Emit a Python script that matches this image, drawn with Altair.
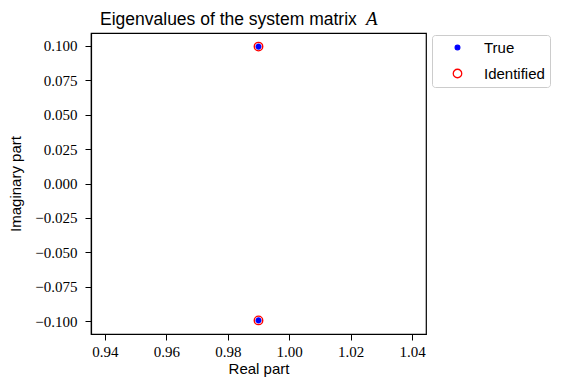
import altair as alt
import pandas as pd

# Data
series_names = ["True", "Identified"]
true_re = [0.99, 0.99]
true_im = [0.0995, -0.0995]
ident_re = [0.99, 0.99]
ident_im = [0.0995, -0.0995]

x_ticks = [0.94, 0.96, 0.98, 1.00, 1.02, 1.04]
y_ticks = [-0.100, -0.075, -0.050, -0.025, 0.000, 0.025, 0.050, 0.075, 0.100]

title_main = "Eigenvalues of the system matrix"
title_sym = "A"

df = pd.DataFrame({
    "re": true_re + ident_re,
    "im": true_im + ident_im,
    "series": ["True"] * len(true_re) + ["Identified"] * len(ident_re),
})

SERIF = "Liberation Serif"
SANS = "Liberation Sans"

legend = alt.Legend(
    title=None, orient="none", legendX=341, legendY=2,
    strokeColor="#cccccc", fillColor="white", cornerRadius=3, padding=5,
    labelFont=SANS, labelFontSize=15, labelColor="black", labelOffset=19,
    symbolOffset=13, rowPadding=10, symbolStrokeWidth=1.3,
)

points = alt.Chart(df).mark_point(strokeWidth=1.4, opacity=1).encode(
    x=alt.X("re:Q", scale=alt.Scale(domain=[0.9355, 1.0445], nice=False, zero=False),
            axis=alt.Axis(values=x_ticks, format=".2f", title="Real part")),
    y=alt.Y("im:Q", scale=alt.Scale(domain=[-0.1094, 0.1094], nice=False, zero=False),
            axis=alt.Axis(values=y_ticks, format=".3f", title="Imaginary part")),
    fill=alt.Fill("series:N", scale=alt.Scale(domain=series_names, range=["#0000ff", "transparent"]), legend=legend),
    stroke=alt.Stroke("series:N", scale=alt.Scale(domain=series_names, range=["#0000ff", "#ff0000"]), legend=legend),
    size=alt.Size("series:N", scale=alt.Scale(domain=series_names, range=[22, 72]), legend=legend),
    order=alt.Order("order:Q"),
).transform_calculate(order="datum.series == 'True' ? 0 : 1")

title_a = alt.Chart(pd.DataFrame({"t": [title_main]})).mark_text(
    font=SANS, fontSize=17.5, align="left", baseline="alphabetic", color="black"
).encode(text="t:N", x=alt.value(9), y=alt.value(-8))

title_b = alt.Chart(pd.DataFrame({"t": [title_sym]})).mark_text(
    font=SERIF, fontStyle="italic", fontSize=19, align="left", baseline="alphabetic", color="black"
).encode(text="t:N", x=alt.value(275), y=alt.value(-8))

chart = alt.layer(points, title_a, title_b).properties(
    width=335, height=301,
    autosize=alt.AutoSizeParams(type="none"),
    padding={"left": 83, "top": 25, "right": 130, "bottom": 48},
).configure_view(stroke="black", strokeWidth=1.2).configure_axis(
    domainColor="black", domainWidth=1.2, tickColor="black", tickSize=6, tickWidth=1,
    labelFont=SERIF, labelFontSize=15, labelColor="black",
    titleFont=SANS, titleFontSize=15, titleColor="black", titleFontWeight="normal",
    grid=False,
).configure_axisY(titlePadding=11, labelPadding=8).configure_axisX(titlePadding=2, labelPadding=4)

chart.save("out.html", embed_options={"renderer": "svg", "actions": False})
